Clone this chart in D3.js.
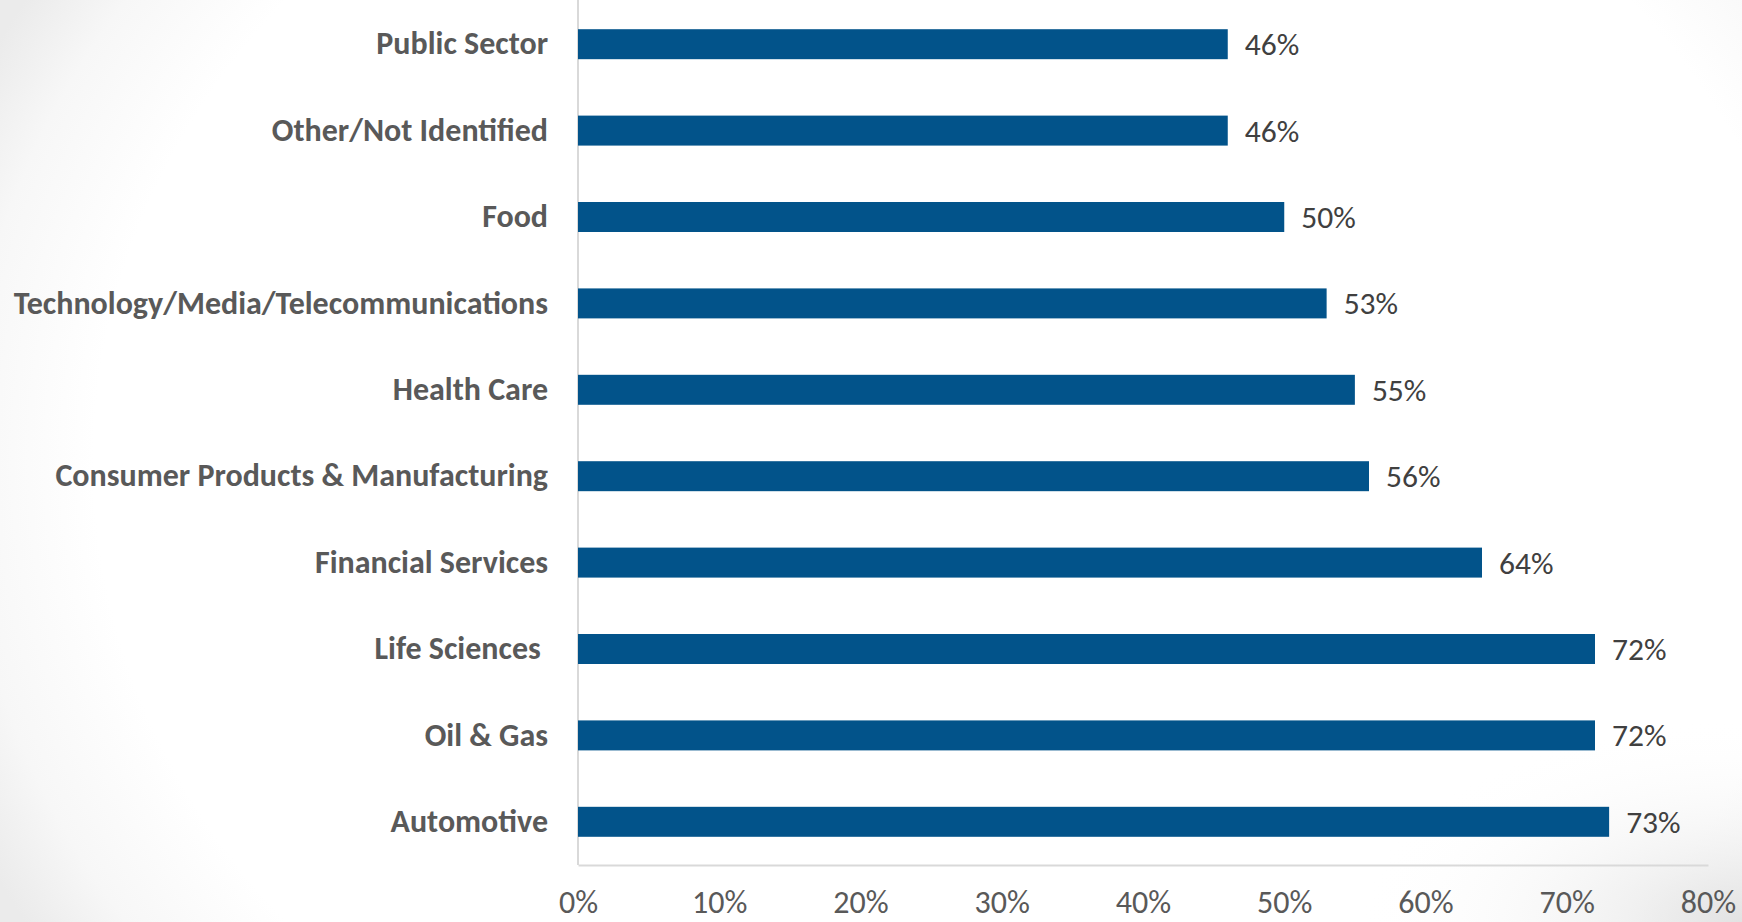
<!DOCTYPE html>
<html lang="en">
<head>
  <meta charset="UTF-8">
  <title>Industry bar chart</title>
  <script src="https://d3js.org/d3.v7.min.js"></script>
  <style>
    body {
      margin: 0;
      padding: 0;
      background: #fff;
      overflow: hidden;
    }
    text {
      font-family: Calibri, Carlito, Lato, "Open Sans", sans-serif;
    }
  </style>
</head>
<body>
  <div id="chart"></div>

  <script>
    const categories = [
      "Public Sector",
      "Other/Not Identified",
      "Food",
      "Technology/Media/Telecommunications",
      "Health Care",
      "Consumer Products & Manufacturing",
      "Financial Services",
      "Life Sciences ",
      "Oil & Gas",
      "Automotive"
    ];
    const values = [46, 46, 50, 53, 55, 56, 64, 72, 72, 73];
    const xTicks = [0, 10, 20, 30, 40, 50, 60, 70, 80];

    const width = 1742;
    const height = 922;
    const plotLeft = 578, plotRight = 1708, plotTop = 1, plotBottom = 865;

    const svg = d3.select("#chart")
                  .append("svg")
                  .attr("width", width)
                  .attr("height", height);

    // soft grey shading at the edges, like the slide background
    const defs = svg.append("defs");
    const lg = defs.append("radialGradient").attr("id", "leftShade")
                   .attr("cx", 0.55).attr("cy", 0.5).attr("r", 0.62)
                   .attr("gradientTransform", "translate(0.55,0.5) scale(1,1.6) translate(-0.55,-0.5)");
    lg.append("stop").attr("offset", "0.8").attr("stop-color", "#ffffff");
    lg.append("stop").attr("offset", "0.92").attr("stop-color", "#f7f7f7");
    lg.append("stop").attr("offset", "1").attr("stop-color", "#ebebeb");

    const rg = defs.append("radialGradient").attr("id", "cornerShade")
                   .attr("cx", 1).attr("cy", 1).attr("r", 0.22);
    rg.append("stop").attr("offset", "0").attr("stop-color", "#e2e2e2");
    rg.append("stop").attr("offset", "1").attr("stop-color", "#ffffff").attr("stop-opacity", 0);

    svg.append("rect").attr("width", width).attr("height", height).attr("fill", "url(#leftShade)");
    svg.append("rect").attr("width", width).attr("height", height).attr("fill", "url(#cornerShade)");

    const x = d3.scaleLinear()
                .domain([0, 80])
                .range([plotLeft, plotRight]);

    const y = d3.scaleBand()
                .domain(categories)
                .range([plotTop, plotBottom])
                .paddingInner(0.653)
                .paddingOuter(0.3265);

    // vertical axis line
    svg.append("line")
       .attr("x1", plotLeft).attr("x2", plotLeft)
       .attr("y1", 0).attr("y2", plotBottom)
       .attr("stroke", "#d9d9d9")
       .attr("stroke-width", 2);

    // bottom axis
    const xAxis = svg.append("g")
       .attr("transform", `translate(0,${plotBottom})`)
       .call(d3.axisBottom(x)
               .tickValues(xTicks)
               .tickSize(0)
               .tickSizeOuter(0)
               .tickPadding(25)
               .tickFormat(d => d + "%"));
    xAxis.select(".domain").attr("stroke", "#d9d9d9").attr("stroke-width", 2);
    xAxis.selectAll("text")
         .attr("fill", "#595959")
         .style("font-size", "32px");

    svg.selectAll(".bar")
       .data(values)
       .enter()
       .append("rect")
       .attr("class", "bar")
       .attr("x", x(0))
       .attr("y", (d, i) => y(categories[i]))
       .attr("width", d => x(d) - x(0))
       .attr("height", y.bandwidth())
       .attr("fill", "#02538a");

    // category labels
    const yAxis = svg.append("g")
       .attr("transform", `translate(${plotLeft},0)`)
       .call(d3.axisLeft(y).tickSize(0).tickPadding(30));
    yAxis.select(".domain").remove();
    yAxis.selectAll("text")
         .attr("fill", "#595959")
         .style("font-size", "32px")
         .style("font-weight", "bold")
         .style("white-space", "pre");

    svg.selectAll(".value-label")
       .data(values)
       .enter()
       .append("text")
       .attr("class", "value-label")
       .attr("x", d => x(d) + 17)
       .attr("y", (d, i) => y(categories[i]) + y.bandwidth() / 2)
       .attr("dy", "0.35em")
       .attr("fill", "#404040")
       .style("font-size", "31.5px")
       .text(d => d + "%");
  </script>
</body>
</html>
